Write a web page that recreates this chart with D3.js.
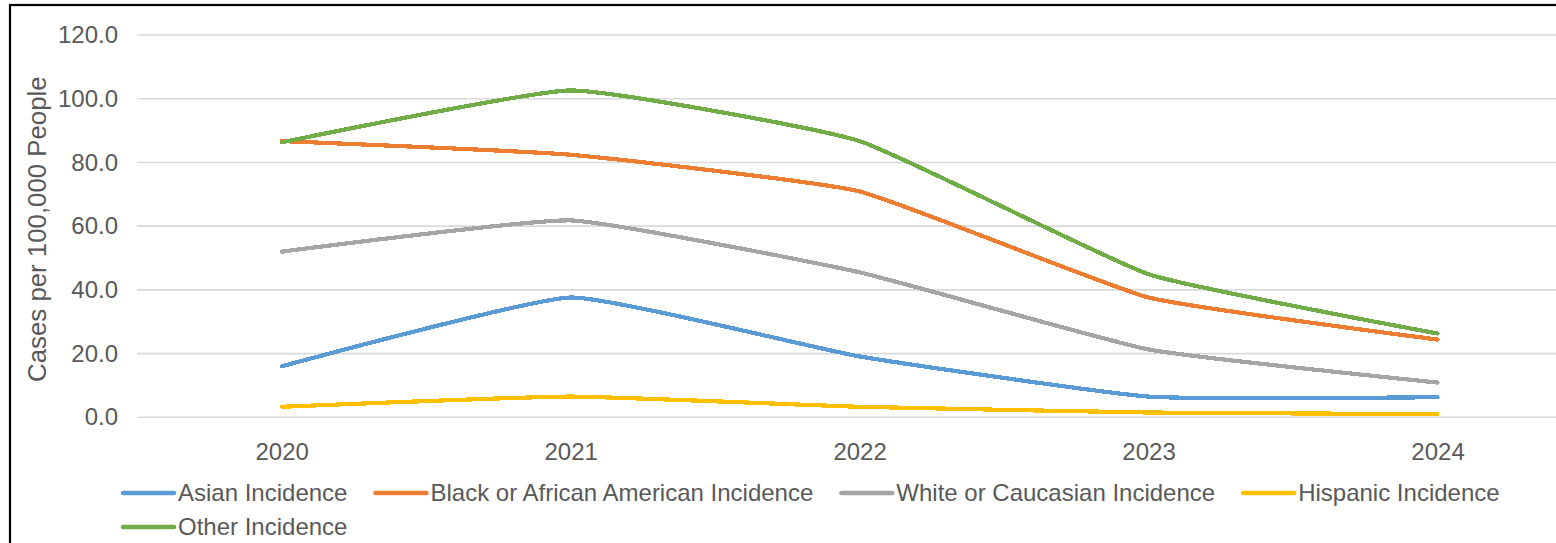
<!DOCTYPE html>
<html>
<head>
<meta charset="utf-8">
<script src="https://cdn.jsdelivr.net/npm/d3@7/dist/d3.min.js"></script>
<style>
  html, body { margin: 0; padding: 0; background: #fff; }
  svg { display: block; }
  text { font-family: "Liberation Sans", Arial, sans-serif; fill: #595959; }
</style>
</head>
<body>
<svg id="chart" width="1556" height="543"></svg>
<script>
// Incidence per 100,000 people by year and group
const years = ["2020", "2021", "2022", "2023", "2024"];
const asian    = [16.0, 37.6, 19.1, 6.5, 6.3];
const black    = [86.7, 82.4, 70.9, 37.6, 24.4];
const white    = [52.0, 61.8, 45.5, 21.3, 10.9];
const hispanic = [3.3, 6.5, 3.3, 1.5, 1.0];
const other    = [86.3, 102.6, 86.7, 44.9, 26.3];
const seriesNames = ["Asian Incidence", "Black or African  American Incidence", "White or Caucasian Incidence", "Hispanic Incidence", "Other Incidence"];
const seriesColors = ["#5B9BD5", "#ED7D31", "#A5A5A5", "#FFC000", "#70AD47"];
const yTicks = [0, 20, 40, 60, 80, 100, 120];
const yTitle = "Cases per 100,000  People";

const seriesValues = [asian, black, white, hispanic, other];
const series = seriesNames.map((name, i) => ({ name, color: seriesColors[i], values: seriesValues[i] }));

const svg = d3.select("#chart");

// outer chart frame
svg.append("rect")
  .attr("x", 10).attr("y", 5)
  .attr("width", 1700).attr("height", 700)
  .attr("fill", "none").attr("stroke", "#000").attr("stroke-width", 2.2);

const x = d3.scalePoint().domain(years).range([137.2, 1582]).padding(0.5);
const y = d3.scaleLinear().domain([0, 120]).range([417.3, 35]);

// horizontal gridlines
svg.append("g").selectAll("line").data(yTicks).join("line")
  .attr("x1", 137).attr("x2", 1582)
  .attr("y1", d => y(d)).attr("y2", d => y(d))
  .attr("stroke", "#d9d9d9").attr("stroke-width", 1.6);

// y axis labels
const yAxis = d3.axisLeft(y).tickValues(yTicks).tickFormat(d3.format(".1f")).tickSize(0).tickPadding(0);
const gy = svg.append("g").attr("transform", "translate(118,0)").call(yAxis);
gy.select(".domain").remove();
gy.selectAll("text").attr("font-size", 24).attr("fill", "#595959")
  .style("font-family", '"Liberation Sans", Arial, sans-serif');

// x axis labels
const xAxis = d3.axisBottom(x).tickSize(0).tickPadding(0);
const gx = svg.append("g").attr("transform", "translate(0,443)").call(xAxis);
gx.select(".domain").remove();
gx.selectAll("text").attr("font-size", 24).attr("fill", "#595959").attr("dy", "0.71em")
  .style("font-family", '"Liberation Sans", Arial, sans-serif');

// y axis title
svg.append("text")
  .attr("transform", `translate(46,${(y(0) + y(120)) / 2 + 3}) rotate(-90)`)
  .attr("text-anchor", "middle")
  .attr("font-size", 25.8)
  .text(yTitle);

// series lines, lightly smoothed through each point
const line = d3.line()
  .x((d, i) => x(years[i]))
  .y(d => y(d))
  .curve(d3.curveCardinal.tension(0.6));

svg.append("g").selectAll("path").data(series).join("path")
  .attr("d", d => line(d.values))
  .attr("fill", "none")
  .attr("stroke", d => d.color)
  .attr("stroke-width", 4.2)
  .attr("stroke-linecap", "round")
  .attr("stroke-linejoin", "round")
  .attr("shape-rendering", "crispEdges");

// legend, flowing left to right and wrapping
const legend = svg.append("g");
const legendStart = 123, legendMax = 1545, rowY = [493, 527];
const swatchW = 51, labelOffset = 55, itemGap = 28;
let lx = legendStart, row = 0;
series.forEach(s => {
  const g = legend.append("g");
  g.append("line").attr("x1", 0).attr("x2", swatchW).attr("y1", 0).attr("y2", 0)
    .attr("stroke", s.color).attr("stroke-width", 4.5).attr("stroke-linecap", "round");
  const t = g.append("text").attr("x", labelOffset).attr("y", 0).attr("dy", "0.35em")
    .attr("font-size", 24).text(s.name);
  const w = labelOffset + t.node().getComputedTextLength();
  if (lx + w > legendMax) { row += 1; lx = legendStart; }
  g.attr("transform", `translate(${lx},${rowY[row]})`);
  lx += w + itemGap;
});
</script>
</body>
</html>
